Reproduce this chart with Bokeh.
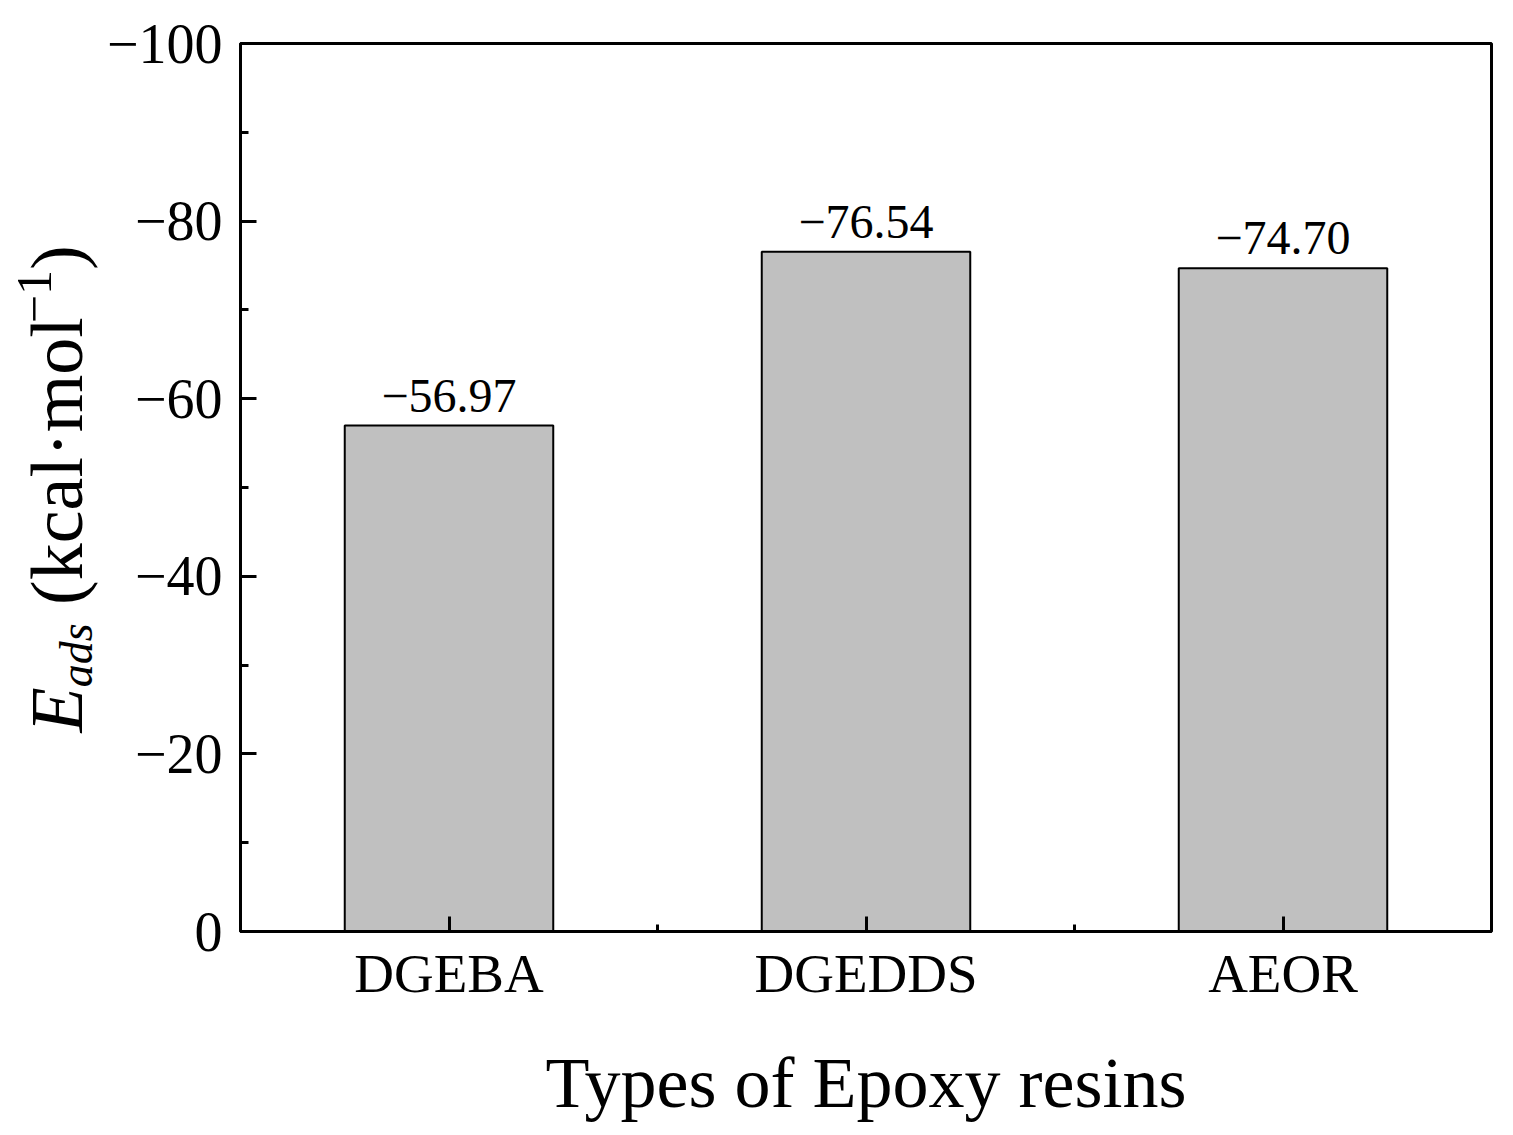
import math
from bokeh.plotting import figure
from bokeh.layouts import row
from bokeh.models import Range1d, FixedTicker, CustomJSTickFormatter, Label, ColumnDataSource
from bokeh.core.properties import value
from bokeh.embed import file_html
from bokeh.resources import INLINE

# ---- data ----
categories = ["DGEBA", "DGEDDS", "AEOR"]
energies = [-56.97, -76.54, -74.70]
y_ticks = [0, -20, -40, -60, -80, -100]
y_minor_ticks = [-10, -30, -50, -70, -90]

FONT = "Liberation Serif"
FRAME_W, FRAME_H = 1251, 888
TOP, BOTTOM = 43, 190
TITLE_W = 102
LEFT_BORDER = 240 - TITLE_W

xs = [i + 0.5 for i in range(len(categories))]
labels = ["\u2212%.2f" % abs(v) for v in energies]
src = ColumnDataSource(dict(x=xs, top=energies, label=labels))

p = figure(frame_width=FRAME_W, frame_height=FRAME_H, output_backend="svg", toolbar_location=None,
           x_range=Range1d(0, len(categories)), y_range=Range1d(0, -100),
           min_border_left=LEFT_BORDER, min_border_right=15, min_border_top=TOP,
           min_border_bottom=BOTTOM)
p.background_fill_color = "white"
p.border_fill_color = "white"
p.xgrid.visible = False
p.ygrid.visible = False
p.outline_line_color = "black"
p.outline_line_width = 3

p.vbar(x="x", top="top", bottom=0, width=0.5, source=src,
       fill_color="#c0c0c0", line_color="black", line_width=2)

p.text(x="x", y="top", text="label", source=src, text_align="center", text_baseline="alphabetic",
       y_offset=-30, text_font=value(FONT), text_font_size="48px", text_color="black")

# x axis
xa = p.xaxis[0]
xa.ticker = FixedTicker(ticks=xs, minor_ticks=[1.0, 2.0])
xa.major_label_overrides = {x: c for x, c in zip(xs, categories)}
xa.axis_line_width = 3
xa.major_tick_in = 15
xa.major_tick_out = 0
xa.minor_tick_in = 7
xa.minor_tick_out = 0
xa.major_tick_line_width = 3
xa.minor_tick_line_width = 3
xa.major_label_text_font = FONT
xa.major_label_text_font_size = "55px"
xa.major_label_text_color = "black"
xa.major_label_standoff = 11
xa.axis_label = "Types of Epoxy resins"
xa.axis_label_text_font = FONT
xa.axis_label_text_font_size = "72px"
xa.axis_label_text_font_style = "normal"
xa.axis_label_text_color = "black"
xa.axis_label_standoff = 36

# y axis
ya = p.yaxis[0]
ya.ticker = FixedTicker(ticks=y_ticks, minor_ticks=y_minor_ticks)
ya.formatter = CustomJSTickFormatter(code="return tick == 0 ? '0' : '\u2212' + Math.abs(tick).toString();")
ya.axis_line_width = 3
ya.major_tick_in = 16
ya.major_tick_out = 0
ya.minor_tick_in = 8
ya.minor_tick_out = 0
ya.major_tick_line_width = 3
ya.minor_tick_line_width = 3
ya.major_label_text_font = FONT
ya.major_label_text_font_size = "56px"
ya.major_label_text_color = "black"
ya.major_label_standoff = 18

# ---- y axis title in its own narrow panel; its frame is aligned with the main frame,
# so its data coordinates are page pixels (x from left, y from top) ----
t = figure(frame_width=TITLE_W, frame_height=FRAME_H, output_backend="svg", toolbar_location=None,
           x_range=Range1d(0, TITLE_W), y_range=Range1d(TOP + FRAME_H, TOP),
           x_axis_type=None, y_axis_type=None,
           min_border_left=0, min_border_right=0, min_border_top=0, min_border_bottom=0)
t.xgrid.visible = False
t.ygrid.visible = False
t.outline_line_color = None
t.background_fill_color = "white"
t.border_fill_color = "white"

base_x = 82          # main baseline (px from left)
start_y = 732        # where the title starts (px from top)
main_fs, sub_fs, sup_fs = 74, 46, 50
MID = 0.34           # distance from baseline to text middle, in em
pieces = [
    ("E", main_fs, "italic", 0, 0.611 * main_fs),
    ("ads", sub_fs, "italic", 10, 1.389 * sub_fs),
    (None, main_fs, "normal", 0, 0.25 * main_fs),          # word space
    ("(kcal\u00b7mol", main_fs, "normal", 0, 3.805 * main_fs),
    ("\u22121", sup_fs, "normal", -31, 1.064 * sup_fs),
    (")", main_fs, "normal", 0, 0.333 * main_fs),
]
pos = start_y
for txt, fs, style, shift, w in pieces:
    if txt:
        t.add_layout(Label(x=base_x + shift - MID * fs, y=pos, text=txt,
                           angle=math.pi / 2, text_align="left", text_baseline="middle",
                           text_font=FONT, text_font_size=f"{fs}px", text_font_style=style,
                           text_color="black"))
    pos -= w

layout = row(t, p)
open("out.html", "w").write(file_html(layout, INLINE))
